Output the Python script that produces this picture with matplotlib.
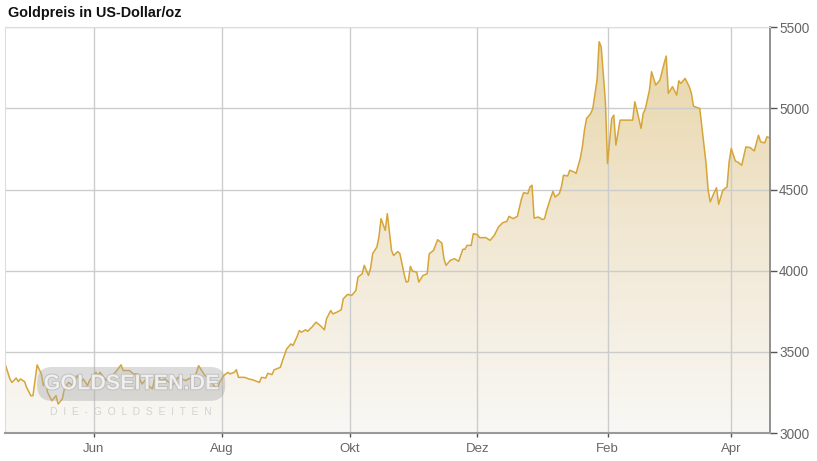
import matplotlib
matplotlib.use('Agg')
import matplotlib.pyplot as plt
import matplotlib.dates as mdates
from matplotlib.colors import LinearSegmentedColormap
import matplotlib.patheffects as pe
import numpy as np
import pandas as pd

# ------------------------
# Data
# ------------------------
dates = [
    '2025-04-20', '2025-04-22', '2025-04-23', '2025-04-25', '2025-04-26', '2025-04-27',
    '2025-04-29', '2025-04-30', '2025-05-02', '2025-05-03', '2025-05-05', '2025-05-07',
    '2025-05-08', '2025-05-09', '2025-05-10', '2025-05-12', '2025-05-14', '2025-05-15',
    '2025-05-17', '2025-05-18', '2025-05-20', '2025-05-22', '2025-05-24', '2025-05-26',
    '2025-05-27', '2025-05-29', '2025-05-30', '2025-06-02', '2025-06-03', '2025-06-04',
    '2025-06-07', '2025-06-08', '2025-06-10', '2025-06-12', '2025-06-14', '2025-06-15',
    '2025-06-18', '2025-06-20', '2025-06-22', '2025-06-24', '2025-06-26', '2025-06-27',
    '2025-06-29', '2025-06-30', '2025-07-02', '2025-07-03', '2025-07-05', '2025-07-07',
    '2025-07-08', '2025-07-10', '2025-07-11', '2025-07-13', '2025-07-15', '2025-07-16',
    '2025-07-19', '2025-07-20', '2025-07-21', '2025-07-23', '2025-07-24', '2025-07-26',
    '2025-07-27', '2025-07-29', '2025-07-30', '2025-07-31', '2025-08-02', '2025-08-04',
    '2025-08-05', '2025-08-07', '2025-08-08', '2025-08-09', '2025-08-11', '2025-08-12',
    '2025-08-14', '2025-08-16', '2025-08-19', '2025-08-20', '2025-08-22', '2025-08-23',
    '2025-08-25', '2025-08-26', '2025-08-29', '2025-08-30', '2025-09-01', '2025-09-03',
    '2025-09-04', '2025-09-06', '2025-09-07', '2025-09-08', '2025-09-10', '2025-09-11',
    '2025-09-13', '2025-09-15', '2025-09-17', '2025-09-19', '2025-09-20', '2025-09-22',
    '2025-09-23', '2025-09-25', '2025-09-27', '2025-09-28', '2025-09-30', '2025-10-02',
    '2025-10-04', '2025-10-05', '2025-10-07', '2025-10-08', '2025-10-10', '2025-10-11',
    '2025-10-12', '2025-10-14', '2025-10-15', '2025-10-16', '2025-10-18', '2025-10-19',
    '2025-10-21', '2025-10-22', '2025-10-24', '2025-10-25', '2025-10-27', '2025-10-28',
    '2025-10-29', '2025-10-30', '2025-10-31', '2025-11-02', '2025-11-03', '2025-11-05',
    '2025-11-07', '2025-11-08', '2025-11-10', '2025-11-12', '2025-11-14', '2025-11-15',
    '2025-11-16', '2025-11-18', '2025-11-20', '2025-11-22', '2025-11-24', '2025-11-25',
    '2025-11-26', '2025-11-28', '2025-11-29', '2025-12-01', '2025-12-02', '2025-12-05',
    '2025-12-07', '2025-12-09', '2025-12-11', '2025-12-13', '2025-12-15', '2025-12-16',
    '2025-12-18', '2025-12-20', '2025-12-22', '2025-12-23', '2025-12-25', '2025-12-26',
    '2025-12-27', '2025-12-28', '2025-12-30', '2026-01-01', '2026-01-02', '2026-01-03',
    '2026-01-05', '2026-01-06', '2026-01-07', '2026-01-09', '2026-01-10', '2026-01-11',
    '2026-01-13', '2026-01-14', '2026-01-16', '2026-01-17', '2026-01-19', '2026-01-20',
    '2026-01-21', '2026-01-22', '2026-01-24', '2026-01-25', '2026-01-27', '2026-01-28',
    '2026-01-29', '2026-01-31', '2026-02-01', '2026-02-03', '2026-02-04', '2026-02-05',
    '2026-02-07', '2026-02-09', '2026-02-13', '2026-02-14', '2026-02-15', '2026-02-17',
    '2026-02-18', '2026-02-19', '2026-02-21', '2026-02-22', '2026-02-24', '2026-02-26',
    '2026-02-28', '2026-03-01', '2026-03-02', '2026-03-04', '2026-03-06', '2026-03-07',
    '2026-03-08', '2026-03-10', '2026-03-12', '2026-03-13', '2026-03-14', '2026-03-16',
    '2026-03-17', '2026-03-18', '2026-03-20', '2026-03-21', '2026-03-22', '2026-03-24',
    '2026-03-25', '2026-03-26', '2026-03-28', '2026-03-30', '2026-03-31', '2026-04-01',
    '2026-04-03', '2026-04-04', '2026-04-06', '2026-04-07', '2026-04-08', '2026-04-10',
    '2026-04-12', '2026-04-14', '2026-04-15', '2026-04-17', '2026-04-18', '2026-04-19',
]
prices = [
    3415, 3333, 3312, 3339, 3317, 3333,
    3317, 3281, 3230, 3230, 3420, 3364,
    3292, 3323, 3250, 3199, 3230, 3179,
    3210, 3272, 3312, 3292, 3354, 3312,
    3333, 3292, 3323, 3374, 3354, 3374,
    3323, 3343, 3354, 3385, 3420, 3385,
    3385, 3364, 3364, 3302, 3333, 3292,
    3272, 3333, 3343, 3323, 3333, 3312,
    3292, 3312, 3343, 3333, 3323, 3333,
    3343, 3374, 3415, 3374, 3354, 3333,
    3312, 3281, 3272, 3312, 3354, 3374,
    3364, 3374, 3390, 3343, 3343, 3343,
    3333, 3327, 3312, 3343, 3339, 3368,
    3360, 3389, 3405, 3446, 3518, 3549,
    3539, 3595, 3631, 3621, 3636, 3627,
    3652, 3683, 3662, 3636, 3704, 3755,
    3734, 3745, 3759, 3827, 3854, 3848,
    3878, 3961, 3981, 4033, 3971, 4015,
    4105, 4146, 4208, 4321, 4249, 4352,
    4125, 4094, 4118, 4105, 3981, 3930,
    3934, 4027, 3998, 3991, 3930, 3971,
    3981, 4105, 4125, 4191, 4170, 4074,
    4033, 4064, 4074, 4058, 4132, 4132,
    4156, 4156, 4228, 4222, 4204, 4204,
    4187, 4218, 4269, 4296, 4304, 4335,
    4321, 4335, 4444, 4481, 4475, 4516,
    4527, 4324, 4331, 4315, 4321, 4372,
    4454, 4489, 4454, 4475, 4516, 4588,
    4584, 4619, 4609, 4599, 4691, 4763,
    4866, 4938, 4969, 5000, 5175, 5411,
    5380, 5041, 4660, 4938, 4959, 4774,
    4928, 4928, 4928, 5041, 4990, 4877,
    4969, 4996, 5113, 5226, 5144, 5175,
    5278, 5323, 5093, 5134, 5082, 5170,
    5154, 5185, 5134, 5093, 5014, 5004,
    5000, 4887, 4660, 4496, 4424, 4486,
    4511, 4409, 4496, 4516, 4671, 4753,
    4675, 4671, 4650, 4706, 4763, 4759,
    4738, 4835, 4794, 4788, 4825, 4821,
]
month_ticks = ['2025-06-01', '2025-08-01', '2025-10-01', '2025-12-01', '2026-02-01', '2026-04-01']
month_labels = ['Jun', 'Aug', 'Okt', 'Dez', 'Feb', 'Apr']
price_ticks = [3000, 3500, 4000, 4500, 5000, 5500]

x = pd.to_datetime(dates)
y = np.array(prices)

# ------------------------
# Style
# ------------------------
plt.rcParams['font.family'] = ['Liberation Sans', 'DejaVu Sans']

line_color = '#d6a537'
grid_color = '#cccccc'
text_color = '#666666'

fig = plt.figure(figsize=(8.17, 4.61), dpi=100)
fig.patch.set_facecolor('white')
ax = fig.add_axes([0.0061, 0.0607, 0.9364, 0.8801])
ax.set_facecolor('white')

x0 = mdates.date2num(pd.Timestamp('2025-04-19 16:00'))
x1 = mdates.date2num(pd.Timestamp('2026-04-19 12:00'))
ax.set_xlim(x0, x1)
ax.set_ylim(3000, 5500)

# gradient fill under the line
poly = ax.fill_between(x, y, 3000, color='none', lw=0)
grad = np.linspace(0, 1, 256).reshape(-1, 1)
cmap = LinearSegmentedColormap.from_list('gold', ['#f9f8f5', '#f1e7d2', '#e8d5a6'])
im = ax.imshow(grad, cmap=cmap, aspect='auto', origin='lower',
               extent=[x0, x1, 3000, 5500], zorder=1)
im.set_clip_path(poly.get_paths()[0], transform=ax.transData)

ax.plot(x, y, color=line_color, lw=1.1, zorder=3)

# ------------------------
# Axes, ticks, grid
# ------------------------
ax.yaxis.tick_right()
ax.set_yticks(price_ticks)
ax.set_yticklabels([str(v) for v in price_ticks])
ax.set_xticks(pd.to_datetime(month_ticks))
ax.set_xticklabels(month_labels)
ax.tick_params(axis='y', direction='out', length=5, width=1, color='#555555',
               labelsize=9.8, labelcolor=text_color, pad=1.5)
ax.tick_params(axis='x', direction='out', length=3, width=1, color='#555555',
               labelsize=9.5, labelcolor=text_color, pad=4)

ax.grid(True, color=grid_color, lw=1)
for gl in ax.get_xgridlines() + ax.get_ygridlines():
    gl.set_zorder(2)

ax.spines['left'].set_color('#dddddd')
ax.spines['top'].set_color('#dddddd')
ax.spines['right'].set_color('#888888')
ax.spines['bottom'].set_color('#999999')
ax.spines['right'].set_linewidth(1.3)
ax.spines['bottom'].set_linewidth(1.5)
for s in ax.spines.values():
    s.set_zorder(4)

# watermark
ax.text(0.165, 0.121, 'GOLDSEITEN.DE', transform=ax.transAxes, ha='center', va='center',
        fontsize=15.5, fontweight='bold', color='#f4f4f4', alpha=0.8, zorder=5,
        path_effects=[pe.withStroke(linewidth=1.2, foreground='#b5b5b5')],
        bbox=dict(boxstyle='round,pad=0.3,rounding_size=0.7', fc='#a8a8a8', ec='none', alpha=0.4))
ax.text(0.165, 0.052, 'D  I  E  -  G  O  L  D  S  E  I  T  E  N', transform=ax.transAxes,
        ha='center', va='center', fontsize=7.5, color='#cfcfcf', alpha=0.9, zorder=5)

fig.text(0.0098, 0.972, 'Goldpreis in US-Dollar/oz', ha='left', va='center',
         fontsize=10.4, fontweight='bold', color='#111111')

plt.savefig('out.png', dpi=100)
